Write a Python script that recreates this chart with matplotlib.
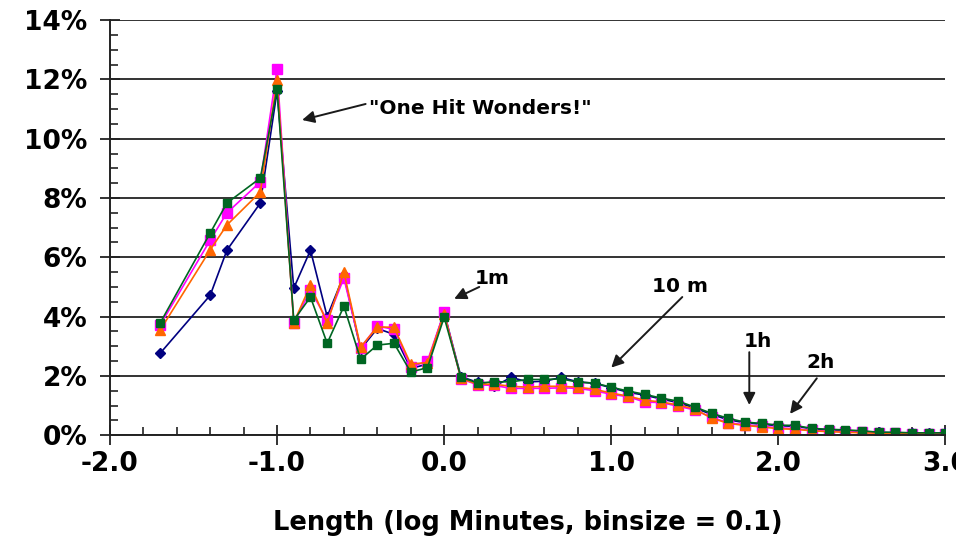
import matplotlib.pyplot as plt
from matplotlib.ticker import MultipleLocator, FuncFormatter

# bins (log10 minutes)
bins = [-1.7, -1.4, -1.3, -1.1, -1.0, -0.9, -0.8, -0.7, -0.6, -0.5, -0.4, -0.3,
        -0.2, -0.1, 0.0, 0.1, 0.2, 0.3, 0.4, 0.5, 0.6, 0.7, 0.8, 0.9, 1.0,
        1.1, 1.2, 1.3, 1.4, 1.5, 1.6, 1.7, 1.8, 1.9, 2.0, 2.1, 2.2, 2.3, 2.4,
        2.5, 2.6, 2.7, 2.8, 2.9, 3.0]

navy_vals = [2.76, 4.72, 6.24, 7.83, 11.6, 4.96, 6.24, 4.0, 5.4, 2.9, 3.6, 3.4,
             2.25, 2.4, 4.15, 1.98, 1.78, 1.65, 1.95, 1.8, 1.82, 1.95, 1.8, 1.75,
             1.6, 1.45, 1.35, 1.22, 1.1, 0.92, 0.7, 0.52, 0.42, 0.37, 0.32, 0.3,
             0.22, 0.18, 0.15, 0.12, 0.1, 0.08, 0.07, 0.07, 0.07]
magenta_vals = [3.71, 6.58, 7.5, 8.54, 12.35, 3.78, 4.89, 3.88, 5.3, 2.95, 3.68, 3.57,
                2.3, 2.5, 4.15, 1.9, 1.7, 1.68, 1.58, 1.58, 1.58, 1.6, 1.58, 1.5,
                1.38, 1.3, 1.12, 1.1, 0.98, 0.85, 0.6, 0.42, 0.35, 0.3, 0.25, 0.22,
                0.16, 0.14, 0.12, 0.1, 0.08, 0.06, 0.05, 0.05, 0.05]
orange_vals = [3.54, 6.25, 7.09, 8.2, 11.98, 3.8, 5.06, 3.78, 5.5, 2.97, 3.65, 3.64,
               2.4, 2.45, 4.1, 1.92, 1.72, 1.72, 1.65, 1.62, 1.65, 1.65, 1.62, 1.55,
               1.42, 1.32, 1.18, 1.12, 1.02, 0.88, 0.58, 0.4, 0.33, 0.28, 0.22, 0.2,
               0.15, 0.12, 0.1, 0.08, 0.07, 0.05, 0.05, 0.04, 0.04]
green_vals = [3.78, 6.82, 7.83, 8.67, 11.67, 3.88, 4.66, 3.1, 4.35, 2.56, 3.04, 3.1,
              2.13, 2.28, 3.98, 1.96, 1.76, 1.8, 1.8, 1.88, 1.88, 1.9, 1.79, 1.76,
              1.62, 1.49, 1.38, 1.25, 1.15, 0.95, 0.74, 0.57, 0.44, 0.4, 0.34, 0.33,
              0.23, 0.2, 0.18, 0.15, 0.1, 0.1, 0.08, 0.08, 0.08]

# text, text position, text alignment, arrow start, arrow tip
notes = [('"One Hit Wonders!"', (-0.45, 11.03), 'left', (-0.47, 11.17), (-0.85, 10.63)),
         ('1m', (0.18, 5.3), 'left', (0.21, 5.0), (0.06, 4.6)),
         ('10 m', (1.41, 5.0), 'center', (1.425, 4.66), (1.0, 2.28)),
         ('1h', (1.875, 3.15), 'center', (1.826, 2.8), (1.826, 1.02)),
         ('2h', (2.25, 2.46), 'center', (2.23, 1.92), (2.07, 0.72))]

fig = plt.figure(figsize=(9.56, 5.42), dpi=100)
ax = fig.add_axes([0.115, 0.197, 0.874, 0.766])

ax.plot(bins, navy_vals, color='#000080', marker='D', markersize=5, lw=1.2)
ax.plot(bins, magenta_vals, color='#ff00ff', marker='s', markersize=7, lw=1.2)
ax.plot(bins, orange_vals, color='#ff6600', marker='^', markersize=6.5, lw=1.2)
ax.plot(bins, green_vals, color='#006622', marker='s', markersize=6, lw=1.2)

for txt, pos, ha, start, tip in notes:
    ax.annotate('', xy=tip, xytext=start,
                arrowprops=dict(arrowstyle='-|>', color='#1a1a1a', lw=1.4,
                                mutation_scale=18, shrinkA=0, shrinkB=0))
    ax.text(pos[0], pos[1], txt, fontsize=14.5, fontweight='bold', ha=ha, va='center')

ax.set_xlim(-2.0, 3.0)
ax.set_ylim(0, 14)
ax.yaxis.set_major_locator(MultipleLocator(2))
ax.yaxis.set_minor_locator(MultipleLocator(0.5))
ax.xaxis.set_major_locator(MultipleLocator(1))
ax.xaxis.set_minor_locator(MultipleLocator(0.2))
ax.yaxis.set_major_formatter(FuncFormatter(lambda v, p: f'{v:.0f}%'))
ax.xaxis.set_major_formatter(FuncFormatter(lambda v, p: f'{v:.1f}'))
ax.grid(True, which='major', axis='y', color='#333333', lw=1.4)
ax.set_axisbelow(True)

for s in ['top', 'right']:
    ax.spines[s].set_visible(False)
for s in ['left', 'bottom']:
    ax.spines[s].set_color('#222222')
    ax.spines[s].set_linewidth(1.4)

ax.tick_params(which='major', direction='inout', length=14, width=1.3, color='#222222',
               labelsize=19)
ax.tick_params(axis='y', which='major', pad=9)
ax.tick_params(axis='x', which='major', pad=4)
ax.tick_params(which='minor', direction='in', length=6, width=1.2, color='#222222')
for lab in ax.get_xticklabels() + ax.get_yticklabels():
    lab.set_fontweight('bold')

ax.set_xlabel('Length (log Minutes, binsize = 0.1)', fontsize=18.5, fontweight='bold',
              labelpad=24)

fig.savefig('out.png', dpi=100)
